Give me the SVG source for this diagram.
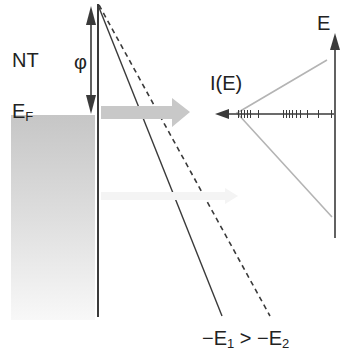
<svg xmlns="http://www.w3.org/2000/svg" width="340" height="350" viewBox="0 0 340 350">
  <defs>
    <linearGradient id="fill" x1="0" y1="0" x2="0" y2="1">
      <stop offset="0" stop-color="#c6c6c6"/>
      <stop offset="0.5" stop-color="#dedede"/>
      <stop offset="1" stop-color="#f8f8f8"/>
    </linearGradient>
    <style>
      .lbl { font-family: "Liberation Sans", Arial, sans-serif; font-size: 20px; fill: #222; }
      .sub { font-size: 13px; }
      .dark { stroke: #3a3a3a; fill: none; }
      .head { fill: #3a3a3a; stroke: none; }
      .gray { stroke: #b4b4b4; stroke-width: 1.6; fill: none; }
    </style>
  </defs>
  <rect width="340" height="350" fill="#ffffff"/>

  <g id="nt-region">
    <rect x="11" y="115" width="84" height="205" fill="url(#fill)"/>
  </g>
  <g id="label-NT"><text class="lbl" x="12" y="67">NT</text></g>
  <g id="label-phi"><text class="lbl" x="74" y="69">φ</text></g>
  <g id="label-EF"><text class="lbl" x="12" y="118">E<tspan class="sub" dy="3">F</tspan></text></g>
  <g id="label-IE"><text class="lbl" x="210" y="90">I(E)</text></g>
  <g id="label-E"><text class="lbl" x="317" y="30">E</text></g>
  <g id="label-bottom"><text class="lbl" x="202" y="345">−E<tspan class="sub" dy="3">1</tspan><tspan dy="-3"> &gt; −E</tspan><tspan class="sub" dy="3">2</tspan></text></g>

  <g id="emission-cone">
    <polyline class="gray" points="327,60 237,113 332,217"/>
  </g>

  <g id="connectors">
    <line class="dark" x1="98" y1="4" x2="98" y2="317" stroke-width="2" stroke="#555"/>
    <line class="dark" x1="98" y1="5" x2="222" y2="316" stroke-width="1.4"/>
    <line class="dark" x1="99" y1="5" x2="270" y2="316" stroke-width="1.6" stroke="#555" stroke-dasharray="5 4"/>
    <line class="dark" x1="91" y1="22" x2="91" y2="98" stroke-width="1.6"/>
    <polygon class="head" points="91,6 86,25 96,25"/>
    <polygon class="head" points="91,114 86,95 96,95"/>
    <polygon fill="#c8c8c8" points="101,106 172,106 172,98 190,112 172,127 172,119 101,119"/>
    <polygon fill="#f4f4f4" points="101,192 225,192 225,188 238,196 225,204 225,200 101,200"/>
    <line class="dark" x1="335" y1="45" x2="335" y2="238" stroke-width="1.6"/>
    <polygon class="head" points="335,33 330,50 340,50"/>
    <line class="dark" x1="225" y1="114" x2="334" y2="114" stroke-width="1.4"/>
    <polygon class="head" points="215,114 229,109 229,119"/>
    <path class="dark" stroke-width="1" d="M238.5,110v8 M241.5,110v8 M244.5,110v8 M247.5,110v8 M250.5,110v8 M258.5,110v8 M283.5,110v8 M286.5,110v8 M289.5,110v8 M292.5,110v8 M296.5,110v8 M300.5,110v8 M307.5,110v8 M318.5,110v8 M331.5,110v8"/>
  </g>
</svg>
